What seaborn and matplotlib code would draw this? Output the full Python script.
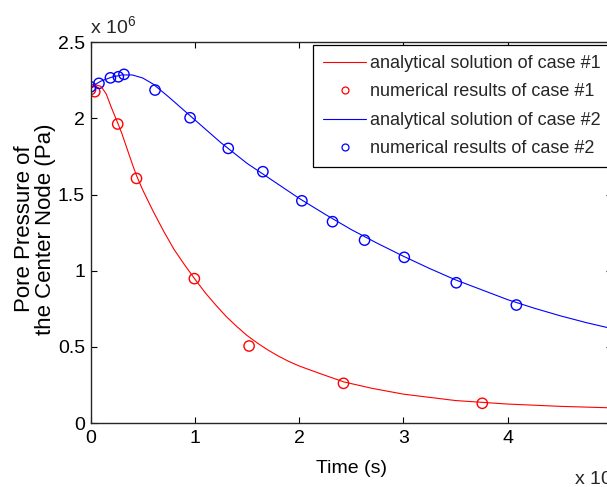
import numpy as np
import pandas as pd
import matplotlib
matplotlib.use("Agg")
import matplotlib.pyplot as plt
import seaborn as sns
from matplotlib.lines import Line2D

# ---- data (time in 1e7 s, pressure in 1e6 Pa) ----
t_ana1 = [0.0, 0.05, 0.1, 0.15, 0.2, 0.26, 0.3, 0.35, 0.4, 0.44, 0.5, 0.6, 0.7, 0.8, 0.9,
          1.0, 1.1, 1.2, 1.3, 1.4, 1.5, 1.6, 1.7, 1.8, 1.9, 2.0, 2.2, 2.43, 2.7, 3.0,
          3.5, 4.0, 4.5, 5.0]
p_ana1 = [2.20, 2.22, 2.21, 2.16, 2.07, 1.97, 1.90, 1.80, 1.70, 1.625, 1.53, 1.39, 1.26, 1.14, 1.04,
          0.945, 0.855, 0.775, 0.70, 0.635, 0.575, 0.525, 0.48, 0.44, 0.405, 0.375, 0.325, 0.27, 0.228, 0.19,
          0.148, 0.125, 0.11, 0.10]

t_num1 = [0.0, 0.04, 0.26, 0.44, 0.995, 1.52, 2.425, 3.756]
p_num1 = [2.19, 2.175, 1.963, 1.606, 0.948, 0.506, 0.261, 0.130]

t_ana2 = [0.0, 0.05, 0.1, 0.2, 0.3, 0.4, 0.5, 0.6, 0.75, 1.0, 1.25, 1.5, 1.75, 2.0, 2.25, 2.5,
          2.75, 3.0, 3.25, 3.5, 3.75, 4.0, 4.25, 4.5, 4.75, 5.0]
p_ana2 = [2.20, 2.225, 2.245, 2.27, 2.285, 2.285, 2.265, 2.225, 2.14, 1.99, 1.84, 1.705, 1.59, 1.475,
          1.37, 1.27, 1.18, 1.095, 1.015, 0.94, 0.875, 0.81, 0.755, 0.705, 0.66, 0.62]

t_num2 = [0.0, 0.08, 0.19, 0.266, 0.32, 0.618, 0.954, 1.32, 1.652, 2.026, 2.32, 2.627, 3.008, 3.507, 4.083]
p_num2 = [2.207, 2.23, 2.266, 2.273, 2.289, 2.186, 2.004, 1.803, 1.65, 1.459, 1.322, 1.201, 1.088, 0.921, 0.775]

legend_labels = ["analytical solution of case #1", "numerical results of case #1",
                 "analytical solution of case #2", "numerical results of case #2"]
x_ticks = [0, 1, 2, 3, 4]
y_ticks = [0, 0.5, 1, 1.5, 2, 2.5]
y_tick_labels = ["0", "0.5", "1", "1.5", "2", "2.5"]

sns.set_theme(style="white")
plt.rcParams["font.family"] = ["Liberation Sans", "DejaVu Sans"]
plt.rcParams["mathtext.fontset"] = "custom"
plt.rcParams["mathtext.rm"] = "Liberation Sans"

W, H = 607, 487
fig = plt.figure(figsize=(W / 100, H / 100), dpi=100)
x0, x1 = 90.6, 612.0
y0, y1 = 423.1, 42.2
ax = fig.add_axes([x0 / W, (H - y0) / H, (x1 - x0) / W, (y0 - y1) / H])

RED = "#FF0000"
BLUE = "#0000FF"

df_a1 = pd.DataFrame({"t": t_ana1, "p": p_ana1})
df_n1 = pd.DataFrame({"t": t_num1, "p": p_num1})
df_a2 = pd.DataFrame({"t": t_ana2, "p": p_ana2})
df_n2 = pd.DataFrame({"t": t_num2, "p": p_num2})

sns.lineplot(data=df_a1, x="t", y="p", ax=ax, color=RED, linewidth=0.8, sort=False)
sns.lineplot(data=df_a2, x="t", y="p", ax=ax, color=BLUE, linewidth=0.8, sort=False)
sns.scatterplot(data=df_n1, x="t", y="p", ax=ax, marker="o", s=55,
                facecolor="none", edgecolor=RED, linewidth=1.0)
sns.scatterplot(data=df_n2, x="t", y="p", ax=ax, marker="o", s=55,
                facecolor="none", edgecolor=BLUE, linewidth=1.0)

ax.set_xlim(0, 5)
ax.set_ylim(0, 2.5)
ax.set_xticks(x_ticks)
ax.set_xticklabels([str(v) for v in x_ticks])
ax.set_yticks(y_ticks)
ax.set_yticklabels(y_tick_labels)
ax.tick_params(direction="in", length=4, width=0.8, colors="#000000",
               labelsize=14, top=True, right=True, bottom=True, left=True)
ax.tick_params(axis="x", pad=5)
ax.tick_params(axis="y", pad=4)
for sp in ax.spines.values():
    sp.set_color("#262626")
    sp.set_linewidth(1.0)
    sp.set_visible(True)

ax.set_xlabel("Time (s)", fontsize=14, color="black")
ax.set_ylabel("Pore Pressure of\nthe Center Node (Pa)", fontsize=16, color="black",
              multialignment="center", linespacing=1.0)
ax.yaxis.set_label_coords(-0.066, 0.51)
ax.xaxis.set_label_coords(0.5, -0.097)

fig.text(90 / W, 1 - 34 / H, r"x 10$^{6}$", fontsize=14, ha="left", va="baseline")
fig.text(574 / W, 1 - 485 / H, r"x 10$^{7}$", fontsize=14, ha="left", va="baseline")

handles = [
    Line2D([], [], color=RED, linewidth=0.8),
    Line2D([], [], color=RED, linestyle="none", marker="o", markersize=5,
           markerfacecolor="none", markeredgewidth=0.9),
    Line2D([], [], color=BLUE, linewidth=0.8),
    Line2D([], [], color=BLUE, linestyle="none", marker="o", markersize=5,
           markerfacecolor="none", markeredgewidth=0.9),
]
leg = ax.legend(handles, legend_labels, loc="upper left",
                bbox_to_anchor=(313 / W, 1 - 45 / H), bbox_transform=fig.transFigure,
                fontsize=13, frameon=True, fancybox=False, framealpha=1,
                edgecolor="black", borderaxespad=0, borderpad=0.56,
                labelspacing=0.63, handlelength=2.4, handletextpad=0.2)
leg.get_frame().set_linewidth(0.9)

fig.savefig("out.png", dpi=100)
